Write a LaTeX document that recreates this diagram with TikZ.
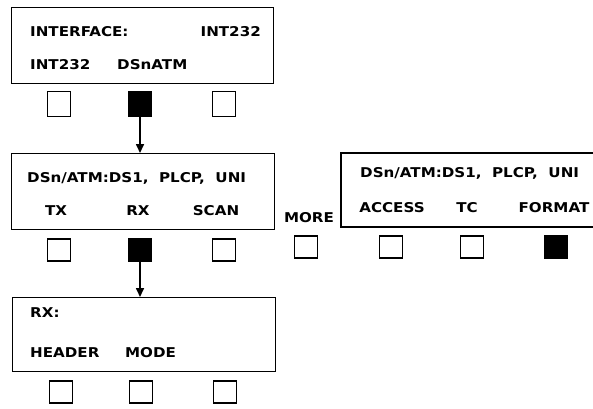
\documentclass[tikz,border=0pt]{standalone}
\usepackage{fontspec}
\setmainfont[FakeStretch=1.12]{DejaVu Sans}
\usetikzlibrary{arrows.meta}
\begin{document}
\begin{tikzpicture}[x=1pt,y=-1pt,
  lbl/.style={inner sep=0pt,font=\fontsize{13.5}{15}\selectfont\bfseries},
  panel/.style={draw,line width=1.4pt},
  key/.style={draw,line width=1.6pt,minimum width=23pt,minimum height=22pt,inner sep=0pt},
  keyon/.style={key,fill=black},
  link/.style={line width=1.6pt,-{Triangle[length=9pt,width=8pt]}}]
\useasboundingbox (0,0) rectangle (593,408);
% top panel
\node[panel,minimum width=262pt,minimum height=76pt,anchor=north west] (p1) at (11,7) {};
\node[lbl,anchor=west] (t1a) at (30,32) {INTERFACE:};
\node[lbl,anchor=east] (t1b) at (261,32) {INT232};
\node[lbl,anchor=west] (t1c) at (30,65) {INT232};
\node[lbl,anchor=west] (t1d) at (117,65) {DSnATM};
\node[key,minimum height=25pt] (k1a) at (59,104) {};
\node[keyon,minimum height=25pt] (k1b) at (140,104) {};
\node[key,minimum height=25pt] (k1c) at (224,104) {};
% middle panel
\node[panel,minimum width=263pt,minimum height=76pt,anchor=north west] (p2) at (11,153) {};
\node[lbl,anchor=west] (t2a) at (27,178) {DSn/ATM:DS1,\ \ PLCP,\ \ UNI};
\node[lbl] (t2b) at (56,211) {TX};
\node[lbl] (t2c) at (138,211) {RX};
\node[lbl] (t2d) at (216,211) {SCAN};
\node[key] (k2a) at (59,250) {};
\node[keyon] (k2b) at (140,250) {};
\node[key] (k2c) at (224,250) {};
% right panel (open on the right)
\coordinate (r1) at (593,153);
\coordinate (r2) at (341,153);
\coordinate (r3) at (341,227);
\coordinate (r4) at (593,227);
\draw[line width=1.4pt] (r1) -- (r2) -- (r3) -- (r4);
\node[lbl,anchor=west] (t3a) at (360,173) {DSn/ATM:DS1,\ \ PLCP,\ \ UNI};
\node[lbl] (t3b) at (392,208) {ACCESS};
\node[lbl] (t3c) at (467,208) {TC};
\node[lbl] (t3d) at (554,208) {FORMAT};
\node[lbl] (more) at (309,218) {MORE};
\node[key] (k3a) at (306,247) {};
\node[key] (k3b) at (391,247) {};
\node[key] (k3c) at (472,247) {};
\node[keyon] (k3d) at (556,247) {};
% bottom panel
\node[panel,minimum width=263pt,minimum height=74pt,anchor=north west] (p3) at (12,297) {};
\node[lbl,anchor=west] (t4a) at (30,313) {RX:};
\node[lbl,anchor=west] (t4b) at (30,353) {HEADER};
\node[lbl,anchor=west] (t4c) at (125,353) {MODE};
\node[key] (k4a) at (61,392) {};
\node[key] (k4b) at (141,392) {};
\node[key] (k4c) at (225,392) {};
% arrows
\draw[link] (k1b.south) -- (k1b.south |- p2.north);
\draw[link] (k2b.south) -- (k2b.south |- p3.north);
\end{tikzpicture}
\end{document}
